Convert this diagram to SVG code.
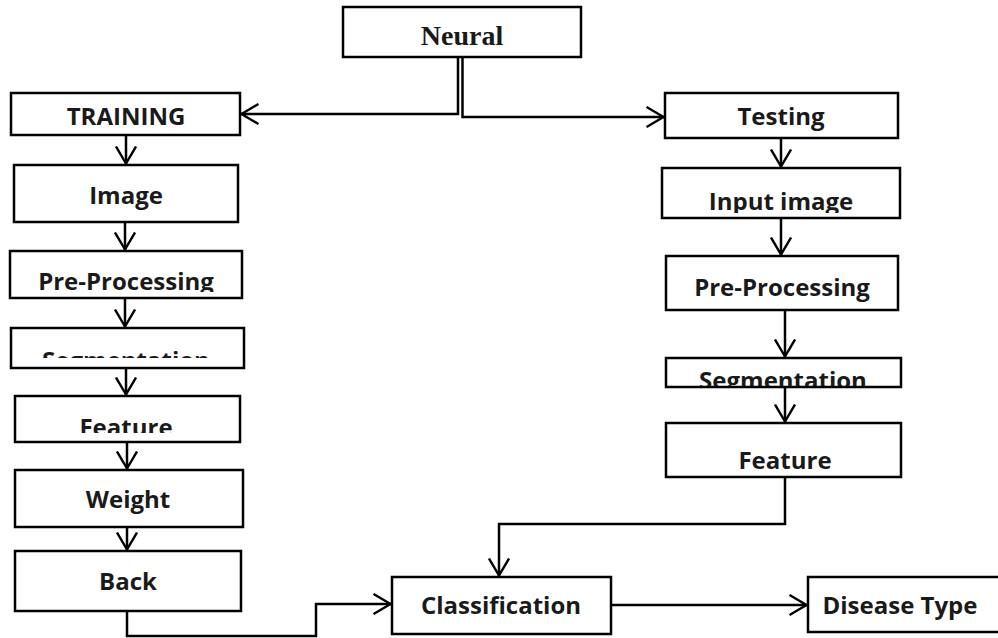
<svg xmlns="http://www.w3.org/2000/svg" width="998" height="638" viewBox="0 0 998 638">
  <style>
    .box { fill: #ffffff; stroke: #000000; stroke-width: 2.5; }
    .lbl { font-family: "Open Sans", "Liberation Sans", sans-serif; font-weight: bold; font-size: 24px; fill: #1a1a1a; text-anchor: middle; }
    .serif { font-family: "Liberation Serif", "Times New Roman", serif; font-weight: bold; font-size: 28px; fill: #1a1a1a; text-anchor: middle; }
    .wire { fill: none; stroke: #000000; stroke-width: 2.5; marker-end: url(#vee); }
  </style>
  <defs>
    <marker id="vee" viewBox="0 0 20 22" refX="18.5" refY="11" markerWidth="20" markerHeight="22" markerUnits="userSpaceOnUse" orient="auto">
      <path d="M1,1 L18,11 L1,21" fill="none" stroke="#000000" stroke-width="2.4"/>
    </marker>
    <clipPath id="cTrPre"><rect x="0" y="250" width="260" height="42"/></clipPath>
    <clipPath id="cTrSeg"><rect x="0" y="326" width="260" height="32"/></clipPath>
    <clipPath id="cTrFea"><rect x="0" y="394" width="260" height="39"/></clipPath>
    <clipPath id="cTeInp"><rect x="650" y="166" width="260" height="47"/></clipPath>
    <clipPath id="cTeSeg"><rect x="650" y="356" width="260" height="30"/></clipPath>
  </defs>

  <g id="neural">
    <rect class="box" x="343" y="7" width="238" height="50"/>
    <text class="serif" x="462" y="45">Neural</text>
  </g>

  <!-- training branch -->
  <g id="training">
    <rect class="box" x="11" y="93" width="229" height="42"/>
    <text class="lbl" x="126" y="125">TRAINING</text>
  </g>
  <g id="train-image">
    <rect class="box" x="14" y="165" width="224" height="57"/>
    <text class="lbl" x="126" y="204">Image</text>
  </g>
  <g id="train-preprocessing">
    <rect class="box" x="10" y="251" width="232" height="47"/>
    <text class="lbl" x="126" y="290" clip-path="url(#cTrPre)">Pre-Processing</text>
  </g>
  <g id="train-segmentation">
    <rect class="box" x="11" y="328" width="233" height="40"/>
    <text class="lbl" x="126" y="369" clip-path="url(#cTrSeg)">Segmentation</text>
  </g>
  <g id="train-feature">
    <rect class="box" x="15" y="396" width="225" height="46"/>
    <text class="lbl" x="126" y="436" clip-path="url(#cTrFea)">Feature</text>
  </g>
  <g id="train-weight">
    <rect class="box" x="15" y="470" width="228" height="57"/>
    <text class="lbl" x="128" y="508">Weight</text>
  </g>
  <g id="train-back">
    <rect class="box" x="15" y="551" width="226" height="60"/>
    <text class="lbl" x="128" y="590">Back</text>
  </g>

  <!-- testing branch -->
  <g id="testing">
    <rect class="box" x="665" y="93" width="233" height="45"/>
    <text class="lbl" x="781" y="125">Testing</text>
  </g>
  <g id="test-input">
    <rect class="box" x="662" y="168" width="238" height="50"/>
    <text class="lbl" x="781" y="210" clip-path="url(#cTeInp)">Input image</text>
  </g>
  <g id="test-preprocessing">
    <rect class="box" x="666" y="256" width="232" height="54"/>
    <text class="lbl" x="782" y="296">Pre-Processing</text>
  </g>
  <g id="test-segmentation">
    <rect class="box" x="666" y="358" width="235" height="29"/>
    <text class="lbl" x="783" y="389" clip-path="url(#cTeSeg)">Segmentation</text>
  </g>
  <g id="test-feature">
    <rect class="box" x="666" y="423" width="235" height="54"/>
    <text class="lbl" x="785" y="469">Feature</text>
  </g>

  <!-- output stage -->
  <g id="classification">
    <rect class="box" x="392" y="577" width="219" height="57"/>
    <text class="lbl" x="501" y="614">Classification</text>
  </g>
  <g id="disease-type">
    <rect class="box" x="808" y="577" width="192" height="55"/>
    <text class="lbl" x="900" y="614">Disease Type</text>
  </g>

  <g id="connectors">
    <path class="wire" d="M458,57 V114 H241"/>
    <path class="wire" d="M462.5,57 V117 H664"/>
    <path class="wire" d="M126,135 V164"/>
    <path class="wire" d="M125,222 V250"/>
    <path class="wire" d="M125,298 V327"/>
    <path class="wire" d="M126,368 V395"/>
    <path class="wire" d="M127,442 V469"/>
    <path class="wire" d="M127,527 V550"/>
    <path class="wire" d="M127,611 V636 H316 V604 H391"/>
    <path class="wire" d="M781,138 V167"/>
    <path class="wire" d="M781,218 V255"/>
    <path class="wire" d="M785,310 V357"/>
    <path class="wire" d="M785,387 V422"/>
    <path class="wire" d="M785,477 V524 H499 V576"/>
    <path class="wire" d="M611,605 H807"/>
  </g>
</svg>
